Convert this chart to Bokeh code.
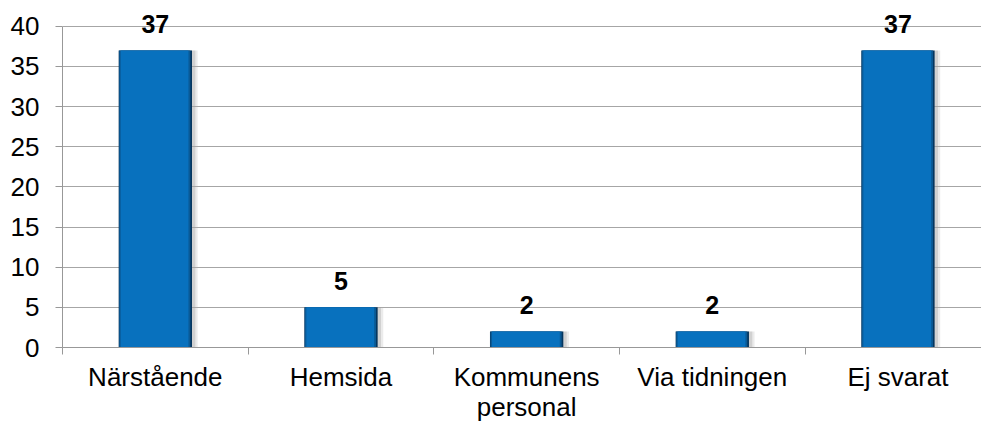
from bokeh.plotting import figure
from bokeh.models import Range1d, FixedTicker, ColumnDataSource
from bokeh.transform import dodge
from bokeh.core.properties import value
from bokeh.embed import file_html
from bokeh.resources import INLINE

categories = ["Närstående", "Hemsida", "Kommunens\npersonal", "Via tidningen", "Ej svarat"]
counts = [37, 5, 2, 2, 37]
y_ticks = [0, 5, 10, 15, 20, 25, 30, 35, 40]
y_max = 40

xs = list(range(1, len(categories) + 1))
src = ColumnDataSource(dict(x=xs, top=counts, label=[str(c) for c in counts]))

# frame extends a little above y_max so the top value labels are not clipped
p = figure(width=981, height=424, output_backend="svg", toolbar_location=None,
           x_range=Range1d(0.5, len(categories) + 0.45), y_range=Range1d(0, y_max * 1.0555),
           min_border_left=62, min_border_right=0, min_border_top=8, min_border_bottom=74)
p.outline_line_color = None
p.background_fill_color = "white"
p.border_fill_color = "white"

BW = 0.395
# soft shadow
p.vbar(x=dodge("x", 0.03), top="top", bottom=0, width=BW, source=src,
       fill_color="#b0b0b0", fill_alpha=0.25, line_color=None)
p.vbar(x=dodge("x", 0.018), top="top", bottom=0, width=BW, source=src,
       fill_color="#a0a0a0", fill_alpha=0.35, line_color=None)
# bar with bevel-like edges
p.vbar(x="x", top="top", width=BW, source=src,
       fill_color="#06365e", line_color=None)
p.vbar(x=dodge("x", -0.003), top="top", width=BW - 0.012, source=src,
       fill_color="#0a5a96", line_color=None)
p.vbar(x=dodge("x", -0.004), top="top", width=BW - 0.03, source=src,
       fill_color="#0871be", line_color=None)

p.text(x="x", y="top", text="label", source=src, text_align="center",
       text_baseline="alphabetic", y_offset=-26,
       text_font=value("Liberation Sans"), text_font_size="25px",
       text_font_style="bold", text_color="black")

# y axis
p.yaxis.ticker = FixedTicker(ticks=y_ticks)
p.yaxis.bounds = (0, y_max)
p.yaxis.axis_line_color = "#989898"
p.yaxis.major_tick_line_color = "#989898"
p.yaxis.major_tick_in = 0
p.yaxis.major_tick_out = 7
p.yaxis.minor_tick_line_color = None
p.yaxis.major_label_text_font = "Liberation Sans"
p.yaxis.major_label_text_font_size = "26px"
p.yaxis.major_label_text_color = "black"
p.yaxis.major_label_standoff = 16

# x axis: labels at centers, tick marks between categories
p.xaxis.ticker = FixedTicker(ticks=xs, minor_ticks=[x - 0.5 for x in xs])
p.xaxis.major_label_overrides = {x: c for x, c in zip(xs, categories)}
p.xaxis.axis_line_color = "#989898"
p.xaxis.major_tick_line_color = None
p.xaxis.major_tick_in = 0
p.xaxis.major_tick_out = 0
p.xaxis.minor_tick_line_color = "#989898"
p.xaxis.minor_tick_in = 0
p.xaxis.minor_tick_out = 7
p.xaxis.major_label_text_font = "Liberation Sans"
p.xaxis.major_label_text_font_size = "26px"
p.xaxis.major_label_text_line_height = 1.0
p.xaxis.major_label_text_color = "black"
p.xaxis.major_label_standoff = 7

p.xgrid.grid_line_color = None
p.ygrid.ticker = FixedTicker(ticks=y_ticks)
p.ygrid.grid_line_color = "#a6a6a6"
p.ygrid.grid_line_width = 1

open("out.html", "w").write(file_html(p, INLINE))
